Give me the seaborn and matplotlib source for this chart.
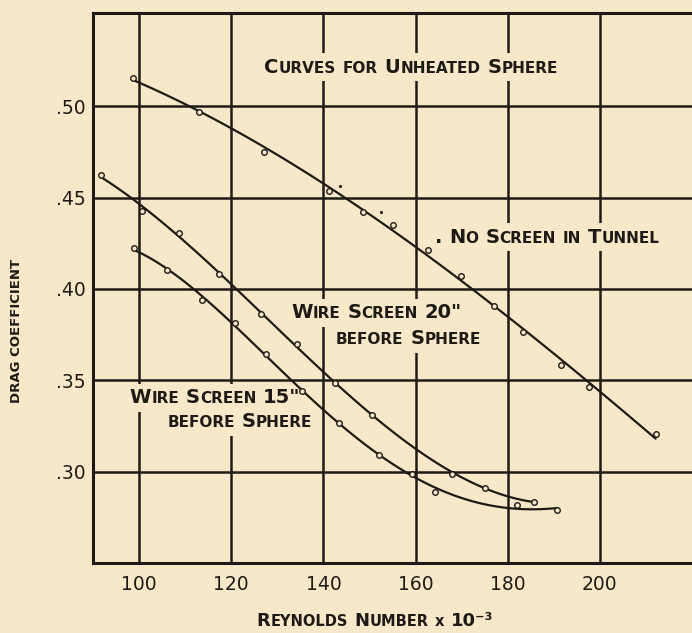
import matplotlib
matplotlib.use("Agg")
import matplotlib.pyplot as plt
from matplotlib.offsetbox import TextArea, HPacker, AnnotationBbox
import pandas as pd
import seaborn as sns

PAPER = "#F7E8C9"
INK = "#1e1b17"

# no screen in tunnel (circles)
re_none = [98.6, 113.1, 127.2, 141.3, 148.7, 155.2, 162.6, 169.8, 177.1, 183.4, 191.5, 197.7, 212.1]
cd_none = [0.5155, 0.4969, 0.4750, 0.4537, 0.4422, 0.4350, 0.4213, 0.4071, 0.3907, 0.3763, 0.3585, 0.3463, 0.3206]
# no screen, extra dots
re_dots = [143.7, 152.5]
cd_dots = [0.4564, 0.4422]
# wire screen 20" before sphere
re_20 = [91.7, 100.7, 108.6, 117.4, 126.5, 134.2, 142.5, 150.5, 168.0, 175.1, 185.7]
cd_20 = [0.4623, 0.4425, 0.4308, 0.4080, 0.3863, 0.3700, 0.3485, 0.3308, 0.2989, 0.2913, 0.2834]
# wire screen 15" before sphere
re_15 = [98.8, 106.0, 113.7, 120.8, 127.5, 135.4, 143.4, 152.1, 159.2, 164.2, 182.1, 190.8]
cd_15 = [0.4222, 0.4104, 0.3940, 0.3813, 0.3645, 0.3443, 0.3264, 0.3090, 0.2987, 0.2889, 0.2818, 0.2791]

x_ticks = [100, 120, 140, 160, 180, 200]
y_ticks = [0.30, 0.35, 0.40, 0.45, 0.50]
y_ticklabels = [".30", ".35", ".40", ".45", ".50"]


def smallcaps(text, big=14, small=11, weight="bold"):
    # upper case letters and digits drawn big, lower case drawn as small capitals
    words = []
    for word in text.split():
        runs = []
        for ch in word:
            size = small if ch.islower() else big
            glyph = ch if word == "x" else ch.upper()
            if runs and runs[-1][1] == size:
                runs[-1][0] += glyph
            else:
                runs.append([glyph, size])
        parts = [TextArea(s, textprops=dict(size=sz, weight=weight, color=INK))
                 for s, sz in runs]
        words.append(HPacker(children=parts, sep=0, pad=0, align="baseline"))
    return HPacker(children=words, sep=small * 0.45, pad=0, align="baseline")


def label(ax, text, x, y, pad=0.7, align=(0.5, 0.5), **kw):
    box = AnnotationBbox(smallcaps(text, **kw), (x, y), xycoords="data",
                         box_alignment=align, frameon=True, pad=pad,
                         bboxprops=dict(facecolor=PAPER, edgecolor="none",
                                        boxstyle="square"))
    box.set_zorder(1)
    ax.add_artist(box)


sns.set_theme(style="white", rc={"axes.facecolor": PAPER, "figure.facecolor": PAPER})
plt.rcParams["font.family"] = ["DejaVu Sans"]

fig = plt.figure(figsize=(6.92, 6.33), dpi=100)
ax = fig.add_axes([0.1344, 0.1106, 0.8656, 0.8689])

curves = [(re_none, cd_none, 3), (re_20, cd_20, 3), (re_15, cd_15, 4)]
for xs, ys, order in curves:
    df = pd.DataFrame({"re": xs, "cd": ys})
    sns.regplot(data=df, x="re", y="cd", order=order, ci=None, scatter=False, ax=ax,
                color=INK, line_kws=dict(lw=1.6, zorder=3))
    sns.scatterplot(data=df, x="re", y="cd", ax=ax, s=16, marker="o",
                    facecolor=PAPER, edgecolor=INK, linewidth=1.0, zorder=4)

sns.scatterplot(x=re_dots, y=cd_dots, ax=ax, s=5, color=INK, linewidth=0, zorder=4)

label(ax, "Curves for Unheated Sphere", 159.0, 0.5213, pad=0.85, weight="semibold")
label(ax, ". No Screen in Tunnel", 164.2, 0.4284, pad=0.7, align=(0.0, 0.5), weight="semibold")
label(ax, "Wire Screen 20\"", 151.6, 0.3869, pad=0.6, weight="semibold")
label(ax, "before Sphere", 158.4, 0.3727, pad=0.6, weight="semibold")
label(ax, "Wire Screen 15\"", 116.5, 0.3404, pad=0.6, weight="semibold")
label(ax, "before Sphere", 121.9, 0.3273, pad=0.6, weight="semibold")

ax.set_xlim(90, 220)
ax.set_ylim(0.25, 0.551)
ax.set_xticks(x_ticks)
ax.set_xticklabels([str(v) for v in x_ticks])
ax.set_yticks(y_ticks)
ax.set_yticklabels(y_ticklabels)
ax.tick_params(length=0, labelsize=13.5, colors=INK)
ax.tick_params(axis="x", pad=9)
ax.tick_params(axis="y", pad=5)
ax.grid(True, color=INK, lw=1.8)
ax.set_xlabel("")
ax.set_ylabel("")
# vertical grid below the label boxes, horizontal grid above them
ax.xaxis.set_zorder(0.5)
ax.yaxis.set_zorder(1.5)

for side in ["left", "bottom", "top"]:
    ax.spines[side].set_color(INK)
    ax.spines[side].set_linewidth(2.2)
ax.spines["right"].set_visible(False)

xl = AnnotationBbox(smallcaps("Reynolds Number x 10⁻³", big=13, small=10.5, weight="semibold"),
                    (0.542, 0.019), xycoords="figure fraction", frameon=False,
                    box_alignment=(0.5, 0.5))
fig.add_artist(xl)
fig.text(0.024, 0.477, "DRAG COEFFICIENT", rotation=90, ha="center", va="center",
         fontsize=9.5, weight="bold", color=INK)

fig.savefig("out.png", dpi=100, facecolor=PAPER)
